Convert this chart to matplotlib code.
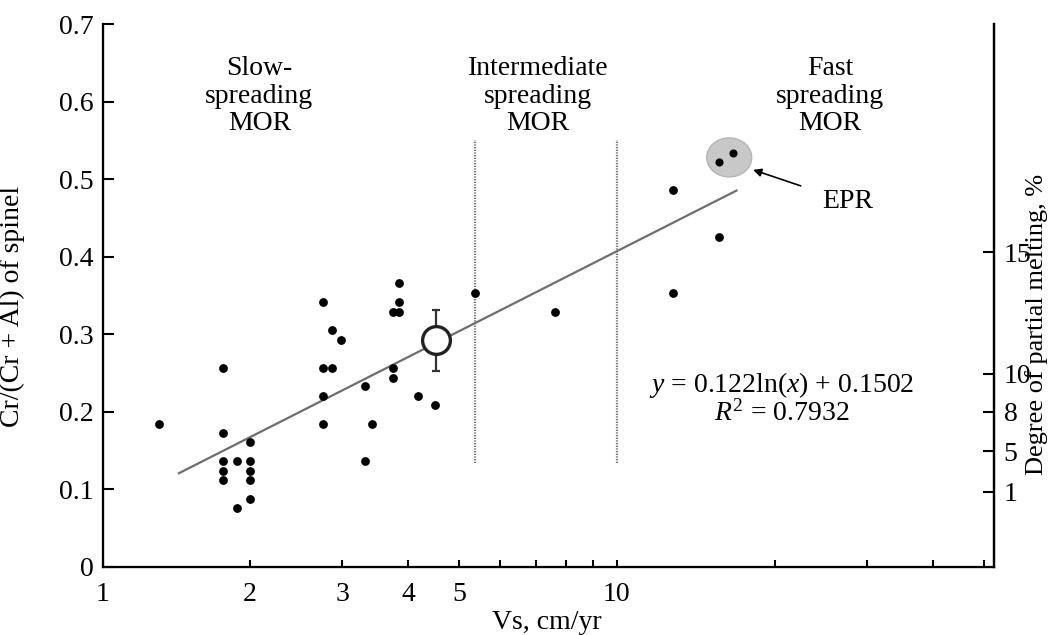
import numpy as np
import matplotlib
matplotlib.use("Agg")
import matplotlib.pyplot as plt
from matplotlib.patches import Ellipse
from matplotlib.transforms import ScaledTranslation

plt.rcParams['font.family'] = ['Liberation Serif', 'DejaVu Serif']
plt.rcParams['mathtext.fontset'] = 'custom'
plt.rcParams['mathtext.rm'] = 'Liberation Serif'
plt.rcParams['mathtext.it'] = 'Liberation Serif:italic'

# spreading rate (cm/yr) and Cr# of spinel
vs = [1.34,
      1.78, 1.78, 1.78, 1.78, 1.78,
      1.89, 1.89,
      2.0, 2.0, 2.0, 2.0, 2.0,
      2.76, 2.76, 2.76, 2.76,
      2.87, 2.87, 2.98,
      3.31, 3.31, 3.41,
      3.75, 3.75, 3.75,
      3.85, 3.85, 3.85,
      4.18, 4.50, 5.36, 7.63,
      12.77, 12.77, 15.65]
cr = [0.184,
      0.257, 0.173, 0.137, 0.124, 0.112,
      0.137, 0.076,
      0.161, 0.137, 0.124, 0.112, 0.088,
      0.341, 0.257, 0.220, 0.184,
      0.257, 0.305, 0.293,
      0.233, 0.137, 0.184,
      0.257, 0.244, 0.329,
      0.329, 0.341, 0.366,
      0.220, 0.209, 0.353, 0.329,
      0.486, 0.353, 0.426]

# EPR samples
epr_vs = [15.65, 16.61]
epr_cr = [0.522, 0.534]
epr_center = (16.37, 0.528)

# mean value with error bar
mean_vs = 4.52
mean_cr = 0.292
mean_err = 0.039

# trend line as drawn
fit_a = 0.149
fit_b = 0.064
fit_range = (1.465, 16.9)

# boundaries between spreading regimes
bounds = [5.36, 10]
bound_y = (0.134, 0.55)

# right axis: degree of partial melting
melt_pos = [0.097, 0.149, 0.200, 0.249, 0.406]
melt_lbl = ['1', '5', '8', '10', '15']

x_major = [1.05, 2, 3, 4, 5, 10]
x_major_lbl = ['1', '2', '3', '4', '5', '10']
x_minor = [6, 7, 8, 9, 20, 30, 40, 50]

FS = 20

fig = plt.figure(figsize=(10.49, 6.35), dpi=100)
ax = fig.add_axes([0.0982, 0.1071, 0.8494, 0.8551])
ax.set_xscale('log')
ax.set_xlim(1.05, 52.3)
ax.set_ylim(0, 0.7)

# trend line
xf = np.geomspace(fit_range[0], fit_range[1], 50)
ax.plot(xf, fit_a * np.log(xf) + fit_b, color='#6e6e6e', lw=1.6, zorder=2)

# regime boundaries
for b in bounds:
    ax.plot([b, b], bound_y, color='#777777', lw=1.6, ls=(0, (0.6, 0.6)), zorder=1)

# EPR highlight
ell = Ellipse((0, 0), 0.45, 0.39, facecolor='#c8c8c8', edgecolor='#b4b4b4', lw=1,
              transform=fig.dpi_scale_trans + ScaledTranslation(epr_center[0], epr_center[1], ax.transData),
              zorder=1)
ax.add_patch(ell)

ax.scatter(vs, cr, s=40, color='black', zorder=3, linewidths=0)
ax.scatter(epr_vs, epr_cr, s=34, color='black', zorder=3, linewidths=0)

ax.errorbar([mean_vs], [mean_cr], yerr=[mean_err], fmt='none', ecolor='#333333',
            elinewidth=1.6, capsize=3, capthick=1.6, zorder=4)
ax.plot([mean_vs], [mean_cr], marker='o', ms=20, mfc='white', mec='#222222', mew=2.4, zorder=5)

ax.annotate('EPR', xy=(18.18, 0.512), xytext=(27.5, 0.471), fontsize=FS,
            ha='center', va='center',
            arrowprops=dict(arrowstyle='-|>', color='black', lw=1.2, mutation_scale=12,
                            shrinkA=14, shrinkB=0))

ax.text(2.085, 0.607, 'Slow-\nspreading\nMOR', ha='center', va='center', fontsize=FS, linespacing=1.15)
ax.text(7.07, 0.607, 'Intermediate\nspreading\nMOR', ha='center', va='center', fontsize=FS, linespacing=1.15)
ax.text(25.5, 0.607, 'Fast\nspreading\nMOR', ha='center', va='center', fontsize=FS, linespacing=1.15)

ax.text(20.6, 0.2345, r'$y$ = 0.122ln($x$) + 0.1502', ha='center', va='center', fontsize=FS)
ax.text(20.6, 0.198, r'$R^2$ = 0.7932', ha='center', va='center', fontsize=FS)

# axes styling
ax.spines['top'].set_visible(False)
for s in ['left', 'bottom', 'right']:
    ax.spines[s].set_linewidth(1.6)

ax.set_xticks(x_major)
ax.set_xticklabels(x_major_lbl)
ax.set_xticks(x_minor, minor=True)
ax.xaxis.set_minor_formatter(plt.NullFormatter())
ax.tick_params(axis='x', which='both', direction='in', length=5, width=1.5, labelsize=FS, pad=11)
ax.set_yticks(np.arange(0, 0.71, 0.1))
ax.set_yticklabels(['0', '0.1', '0.2', '0.3', '0.4', '0.5', '0.6', '0.7'])
ax.tick_params(axis='y', which='both', direction='in', length=8, width=1.5, labelsize=FS, pad=7)

ax.set_xlabel('Vs, cm/yr', fontsize=FS)
ax.xaxis.set_label_coords(0.498, -0.079)
ax.set_ylabel('Cr/(Cr + Al) of spinel', fontsize=FS)
ax.yaxis.set_label_coords(-0.0875, 0.48)

ax2 = ax.twinx()
ax2.set_ylim(0, 0.7)
ax2.spines['top'].set_visible(False)
ax2.spines['right'].set_linewidth(1.6)
ax2.set_yticks(melt_pos)
ax2.set_yticklabels(melt_lbl)
ax2.tick_params(axis='y', direction='in', length=8, width=1.5, labelsize=FS, pad=7)
ax2.set_ylabel('Degree of partial melting, %', fontsize=19)
ax2.yaxis.set_label_coords(1.035, 0.446)

fig.savefig('out.png', dpi=100)
